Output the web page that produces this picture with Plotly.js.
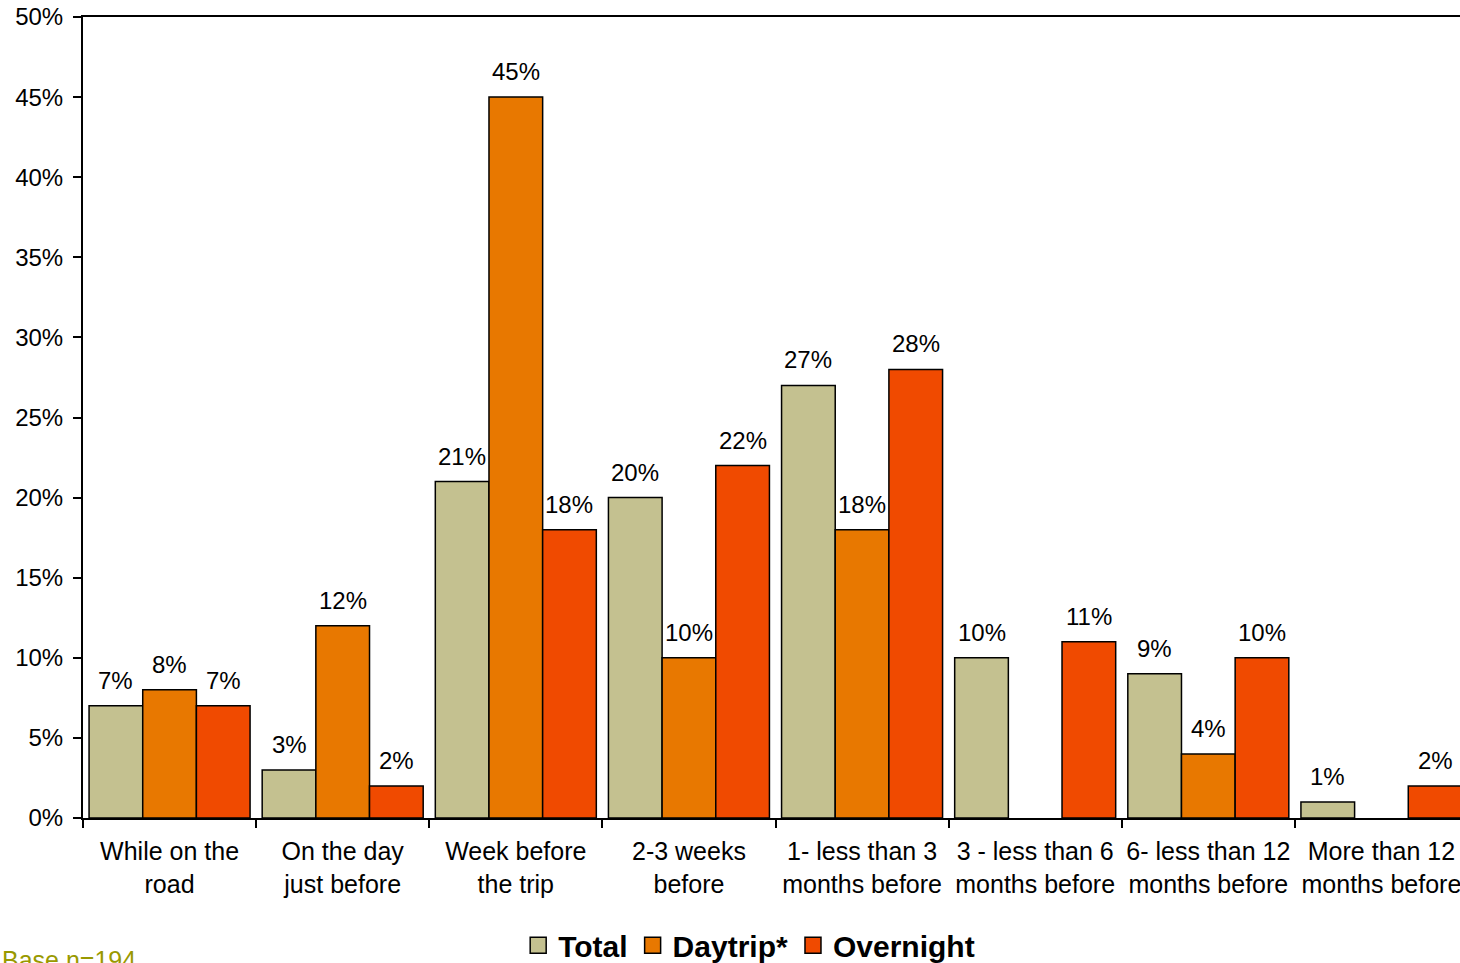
<!DOCTYPE html>
<html>
<head>
<meta charset="utf-8">
<script src="https://cdn.plot.ly/plotly-3.0.1.min.js"></script>
<style>
  html, body { margin: 0; padding: 0; background: #fff; overflow: hidden; }
  #chart { width: 1470px; height: 963px; }
</style>
</head>
<body>
<div id="chart"></div>
<script>
// Booking timing categories (two-line axis labels)
const categories = [
  "While on the<br>road",
  "On the day<br>just before",
  "Week before<br>the trip",
  "2-3 weeks<br>before",
  "1- less than 3<br>months before",
  "3 - less than 6<br>months before",
  "6- less than 12<br>months before",
  "More than 12<br>months before"
];

// Shares in percent; null where no bar is shown
const totalValues     = [7, 3, 21, 20, 27, 10, 9, 1];
const daytripValues   = [8, 12, 45, 10, 18, null, 4, null];
const overnightValues = [7, 2, 18, 22, 28, 11, 10, 2];

const seriesNames  = ["Total", "Daytrip*", "Overnight"];
const seriesColors = ["#C4C190", "#E87800", "#F04A00"];
const seriesValues = [totalValues, daytripValues, overnightValues];

const yTicks = [0, 5, 10, 15, 20, 25, 30, 35, 40, 45, 50];

const FONT = "Liberation Sans, Arial, sans-serif";

// figure geometry
const W = 1470, H = 963;
const M = { l: 83, r: 2, t: 17, b: 145 };
const plotW = W - M.l - M.r;
const BARGAP = 0.07;
const barPx = plotW / categories.length * (1 - BARGAP) / 3;

// bars (legend shown by separate square keys below)
const traces = seriesValues.map((vals, i) => ({
  type: "bar",
  name: seriesNames[i],
  x: categories,
  y: vals,
  showlegend: false,
  marker: { color: seriesColors[i], line: { color: "#000", width: 1.5 } },
  hoverinfo: "x+y"
}));

// legend keys: large squares with black outline
seriesNames.forEach((name, i) => {
  traces.push({
    type: "scatter",
    mode: "markers",
    name: name,
    x: [categories[0]],
    y: [null],
    marker: { symbol: "square", size: 16, color: seriesColors[i], line: { color: "#000", width: 1.5 } },
    showlegend: true,
    hoverinfo: "skip"
  });
});

// value labels above each bar
const annotations = [];
seriesValues.forEach((vals, i) => {
  vals.forEach((v, j) => {
    if (v === null) return;
    annotations.push({
      x: categories[j], y: v,
      xref: "x", yref: "y",
      text: v + "%",
      showarrow: false,
      xanchor: "center", yanchor: "bottom",
      xshift: (i - 1) * barPx,
      yshift: 10,
      font: { family: FONT, size: 24, color: "#000" }
    });
  });
});

annotations.push({
  text: "Base n=194",
  xref: "paper", yref: "paper",
  x: -M.l / plotW, xanchor: "left",
  y: -0.157, yanchor: "top",
  showarrow: false,
  font: { family: FONT, size: 25, color: "#999900" }
});

const layout = {
  width: W,
  height: H,
  margin: { l: M.l, r: M.r, t: M.t, b: M.b, autoexpand: false },
  paper_bgcolor: "#fff",
  plot_bgcolor: "#fff",
  barmode: "group",
  bargap: BARGAP,
  bargroupgap: 0,
  font: { family: FONT, color: "#000" },
  showlegend: true,
  legend: {
    orientation: "h",
    x: 0.481, xanchor: "center",
    y: -0.159, yanchor: "middle",
    font: { family: FONT, size: 30, color: "#000", weight: "bold" },
    itemsizing: "trace",
    itemwidth: 30,
    tracegroupgap: 0
  },
  xaxis: {
    type: "category",
    automargin: false,
    showline: true,
    linecolor: "#000",
    linewidth: 2,
    mirror: true,
    ticks: "outside",
    tickson: "boundaries",
    ticklen: 8,
    tickwidth: 2,
    tickcolor: "#000",
    tickangle: 0,
    ticklabelstandoff: 10,
    tickfont: { family: FONT, size: 25, color: "#000" },
    showgrid: false,
    zeroline: false,
    fixedrange: true
  },
  yaxis: {
    range: [0, 50],
    automargin: false,
    tickvals: yTicks,
    ticktext: yTicks.map(v => v + "%"),
    showline: true,
    linecolor: "#000",
    linewidth: 2,
    ticks: "outside",
    ticklen: 8,
    tickwidth: 2,
    tickcolor: "#000",
    ticklabelstandoff: 5,
    tickfont: { family: FONT, size: 24, color: "#000" },
    showgrid: false,
    zeroline: false,
    fixedrange: true
  },
  annotations: annotations
};

Plotly.newPlot("chart", traces, layout, { displayModeBar: false, staticPlot: true });
</script>
</body>
</html>
